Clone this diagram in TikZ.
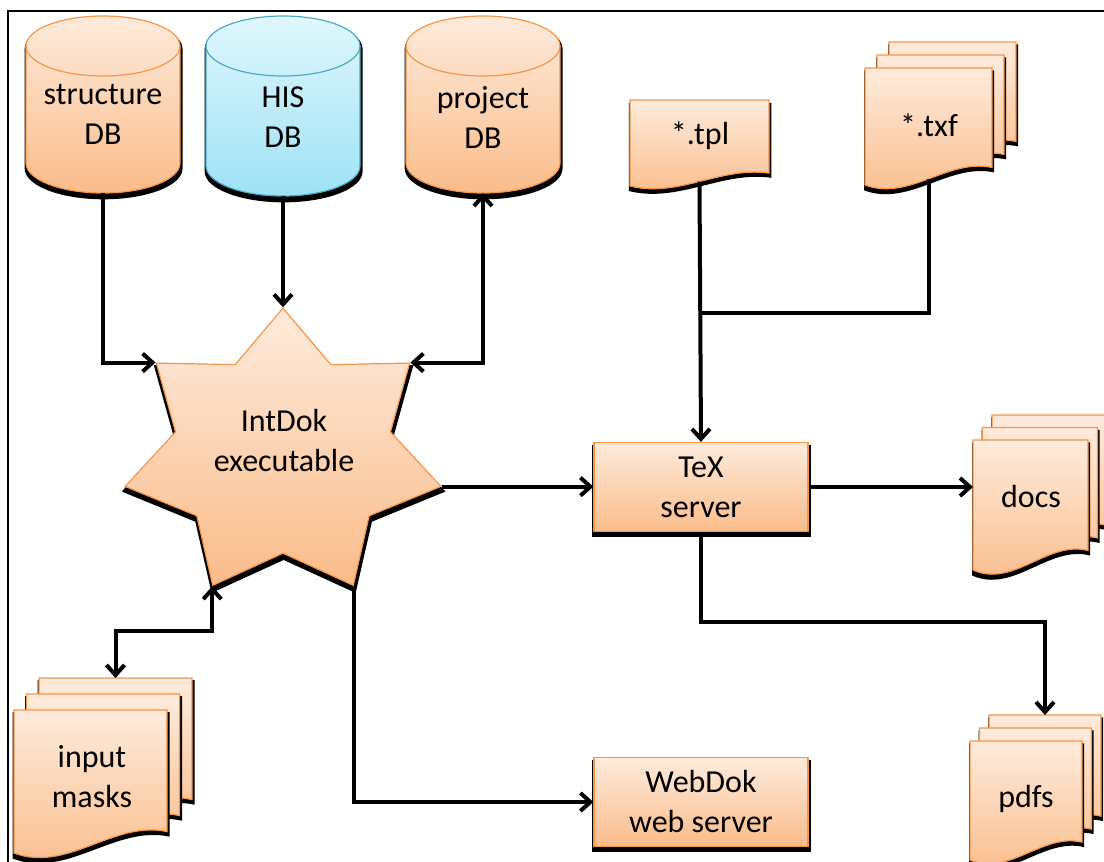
\documentclass[tikz,border=0pt]{standalone}
\usepackage{fontspec}
\setmainfont{Carlito}
\usetikzlibrary{shadows,shapes.geometric,arrows.meta}

\definecolor{orangetop}{RGB}{254,235,220}
\definecolor{orangebot}{RGB}{250,188,138}
\definecolor{orangeline}{RGB}{247,150,70}
\definecolor{bluetop}{RGB}{224,247,253}
\definecolor{bluebot}{RGB}{158,226,246}
\definecolor{blueline}{RGB}{75,172,198}

\tikzset{
  boxshadow/.style={drop shadow={shadow xshift=0.3pt, shadow yshift=-2pt,
      shadow scale=1.025, fill=black, opacity=1}},
  orangefill/.style={top color=orangetop, bottom color=orangebot,
      draw=orangeline, line width=0.6pt, boxshadow},
  bluefill/.style={top color=bluetop, bottom color=bluebot,
      draw=blueline, line width=0.6pt, boxshadow},
  textnode/.style={align=center, font=\fontsize{16}{20}\selectfont},
  server/.style={rectangle, orangefill, textnode, minimum width=107pt,
      minimum height=44.5pt, inner sep=0pt},
  pagebox/.style={rectangle, inner sep=0pt, outer sep=0pt},
  flowline/.style={line width=2pt},
  flow/.style={flowline, -{Straight Barb[length=5pt,width=9pt]}},
  flowboth/.style={flowline, {Straight Barb[length=5pt,width=9pt]}-{Straight Barb[length=5pt,width=9pt]}},
}

% database drum: name, centre x, top, bottom, fill style, line colour
\newcommand{\dbdrum}[6]{%
  \draw[#5] (#2-77,#3+30) -- (#2-77,#4-30)
    arc[start angle=180, end angle=360, x radius=38.5pt, y radius=15pt]
    -- (#2+77,#3+30)
    arc[start angle=0, end angle=180, x radius=38.5pt, y radius=15pt] -- cycle;
  \draw[draw=#6, line width=0.6pt] (#2-77,#3+30)
    arc[start angle=180, end angle=360, x radius=38.5pt, y radius=15pt];
  \node[pagebox, minimum width=77pt, minimum height=#4*0.5pt-#3*0.5pt]
    (#1) at (#2,#3/2+#4/2) {};
}

% one page with a wavy bottom: name, left, top, width, height
\newcommand{\docpage}[5]{%
  \draw[orangefill] (#2,#3) -- ++(#4,0) -- ++(0,0.85*#5)
    .. controls +(-0.35*#4,-0.08*#5) and +(0.35*#4,0.14*#5) .. (#2,#3+#5) -- cycle;
  \node[pagebox, minimum width=#4*0.5pt, minimum height=#5*0.475pt]
    (#1) at (#2+#4/2,#3+#5*0.475) {};
}

\begin{document}
\begin{tikzpicture}[x=0.5pt, y=-0.5pt]
  \useasboundingbox (0,0) rectangle (1104,862);
  \draw[line width=1pt] (8,862) -- (8,11) -- (1104,11);

  % databases
  \dbdrum{structdb}{103}{16}{193}{orangefill}{orangeline}
  \dbdrum{hisdb}{283}{16}{196}{bluefill}{blueline}
  \dbdrum{projdb}{483}{16}{193}{orangefill}{orangeline}
  \node[textnode] (structdbtext) at (103,114) {structure\\DB};
  \node[textnode] (hisdbtext) at (283,117) {HIS\\DB};
  \node[textnode] (projdbtext) at (483,117) {project\\DB};

  % executable
  \path (283,454) node[star, star points=7, star point ratio=1.47,
    minimum size=162pt, inner sep=0pt, yscale=0.9, transform shape,
    orangefill] (intdok) {};
  \node[textnode] (intdoktext) at (284,441) {IntDok\\executable};

  % servers
  \node[server] (tex) at (701,487) {TeX\\server};
  \node[server] (webdok) at (701,802) {WebDok\\web server};

  % files
  \docpage{tpl}{630}{100}{139}{86}
  \foreach \k/\pname in {2/txf-2,1/txf-1,0/txf}
    {\docpage{\pname}{865+\k*12}{68-\k*13}{127}{117}}
  \foreach \k/\pname in {2/docs-2,1/docs-1,0/docs}
    {\docpage{\pname}{973+\k*9.5}{440-\k*12.5}{115}{130}}
  \foreach \k/\pname in {2/pdfs-2,1/pdfs-1,0/pdfs}
    {\docpage{\pname}{970+\k*9.5}{741-\k*13}{112}{119}}
  \foreach \k/\pname in {2/masks-2,1/masks-1,0/masks}
    {\docpage{\pname}{14+\k*12.5}{710-\k*16}{153}{143}}
  \node[textnode] (tpltext) at (700,136) {*.tpl};
  \node[textnode] (txftext) at (929,125) {*.txf};
  \node[textnode] (docstext) at (1031,497) {docs};
  \node[textnode] (pdfstext) at (1026,799) {pdfs};
  \node[textnode] (maskstext) at (92,777) {input\\masks};

  % connectors
  \draw[flow] (structdb.south) |- (intdok.outer point 2);
  \draw[flow] (hisdb.south) -- (intdok.outer point 1);
  \draw[flowboth] (intdok.outer point 7) -| (projdb.south);
  \coordinate (tpljoin) at (700,313);
  \draw[flowline] (txf.south) |- (tpljoin);
  \draw[flow] (tpl.south) -- (tex.north);
  \draw[flow] (intdok.outer point 6) -- (intdok.outer point 6 -| tex.west);
  \draw[flow] (tex.east) -- (tex.east -| docs.west);
  \draw[flow] (tex.south) -- ++(0,90) -| (pdfs-2.north);
  \draw[flowboth] (intdok.outer point 4) -- ++(0,45) -| (masks-2.north);
  \draw[flow] (intdok.outer point 5) |- (webdok.west);
\end{tikzpicture}
\end{document}
